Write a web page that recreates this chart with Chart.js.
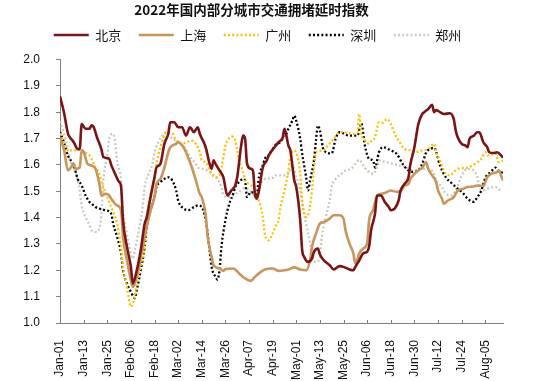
<!DOCTYPE html>
<html><head><meta charset="utf-8">
<script src="https://cdn.jsdelivr.net/npm/chart.js@4"></script>
<style>html,body{margin:0;padding:0;background:#fff}#wrap{width:554px;height:381px}</style>
</head><body><div id="wrap"><canvas id="c" width="554" height="381"></canvas></div>
<script>
const titleText = '2022年国内部分城市交通拥堵延时指数';
const seriesNames = ['北京', '上海', '广州', '深圳', '郑州'];
const tickLabels = ['Jan-01','Jan-13','Jan-25','Feb-06','Feb-18','Mar-02','Mar-14','Mar-26','Apr-07','Apr-19','May-01','May-13','May-25','Jun-06','Jun-18','Jun-30','Jul-12','Jul-24','Aug-05'];
// [day index from Jan-01, index value]
const beijing = [[0,1.86],[2,1.80],[4,1.72],[5,1.705],[7,1.686],[9,1.66],[10,1.66],[11,1.755],[13,1.737],[15,1.737],[16,1.75],[17,1.745],[19,1.70],[21,1.66],[22,1.63],[25,1.623],[26,1.60],[28,1.566],[30,1.535],[31,1.52],[32,1.39],[34,1.29],[36,1.213],[37,1.15],[39,1.20],[41,1.276],[43,1.377],[44,1.40],[46,1.478],[48,1.553],[49,1.59],[51,1.604],[53,1.68],[55,1.718],[56,1.762],[58,1.762],[60,1.743],[62,1.743],[64,1.711],[66,1.743],[68,1.724],[70,1.743],[71,1.718],[74,1.667],[76,1.604],[77,1.585],[78,1.617],[79,1.604],[81,1.579],[83,1.553],[85,1.484],[87,1.503],[89,1.522],[90,1.553],[92,1.673],[93,1.711],[94,1.70],[95,1.604],[97,1.585],[98,1.579],[99,1.49],[100,1.472],[101,1.50],[103,1.59],[105,1.617],[106,1.636],[109,1.667],[111,1.686],[112,1.692],[113,1.70],[114,1.737],[115,1.71],[116,1.673],[117,1.655],[119,1.541],[120,1.516],[122,1.39],[123,1.276],[124,1.251],[126,1.232],[128,1.245],[129,1.27],[131,1.283],[132,1.26],[134,1.238],[137,1.219],[139,1.203],[142,1.216],[144,1.213],[147,1.203],[149,1.20],[150,1.213],[152,1.238],[154,1.264],[156,1.27],[157,1.29],[158,1.352],[160,1.415],[161,1.484],[163,1.484],[165,1.459],[167,1.44],[168,1.428],[170,1.434],[172,1.465],[173,1.503],[175,1.528],[177,1.553],[178,1.604],[180,1.667],[182,1.755],[184,1.793],[185,1.80],[187,1.812],[189,1.828],[190,1.80],[191,1.808],[193,1.80],[195,1.793],[198,1.796],[200,1.774],[201,1.73],[202,1.705],[204,1.68],[206,1.673],[207,1.667],[208,1.699],[210,1.71],[212,1.724],[213,1.724],[215,1.686],[217,1.667],[218,1.648],[220,1.645],[222,1.648],[224,1.636],[225,1.627]];
const shanghai = [[0,1.70],[2,1.66],[4,1.58],[5,1.585],[7,1.604],[8,1.585],[10,1.59],[11,1.655],[12,1.65],[14,1.604],[16,1.598],[18,1.585],[20,1.528],[21,1.484],[23,1.49],[25,1.484],[26,1.472],[29,1.446],[31,1.428],[32,1.327],[34,1.238],[36,1.163],[37,1.137],[39,1.175],[41,1.251],[43,1.327],[46,1.428],[48,1.478],[49,1.528],[51,1.547],[53,1.59],[55,1.648],[56,1.667],[59,1.68],[60,1.686],[62,1.675],[64,1.648],[65,1.63],[67,1.59],[69,1.541],[71,1.49],[72,1.478],[74,1.41],[75,1.327],[77,1.251],[78,1.219],[81,1.207],[83,1.198],[84,1.205],[88,1.207],[91,1.188],[94,1.169],[97,1.16],[99,1.175],[102,1.194],[104,1.203],[108,1.207],[111,1.198],[114,1.20],[116,1.203],[119,1.211],[122,1.203],[125,1.20],[127,1.238],[128,1.289],[130,1.339],[132,1.377],[134,1.383],[137,1.396],[139,1.409],[142,1.409],[144,1.396],[145,1.352],[147,1.302],[149,1.264],[150,1.226],[152,1.264],[154,1.283],[156,1.302],[157,1.39],[159,1.428],[161,1.484],[163,1.49],[165,1.493],[168,1.503],[171,1.498],[173,1.50],[175,1.522],[177,1.528],[178,1.547],[180,1.566],[182,1.579],[184,1.589],[186,1.61],[187,1.585],[189,1.56],[191,1.535],[192,1.503],[194,1.472],[195,1.453],[197,1.465],[200,1.478],[202,1.503],[205,1.51],[207,1.516],[210,1.518],[212,1.522],[215,1.52],[217,1.553],[219,1.566],[222,1.573],[223,1.579],[224,1.56],[225,1.541]];
const guangzhou = [[0,1.72],[2,1.686],[4,1.655],[8,1.655],[10,1.66],[12,1.648],[15,1.636],[18,1.59],[20,1.566],[21,1.535],[23,1.497],[25,1.459],[27,1.421],[29,1.377],[31,1.289],[32,1.213],[34,1.137],[36,1.062],[38,1.10],[39,1.15],[41,1.213],[43,1.289],[44,1.39],[46,1.49],[48,1.553],[49,1.604],[51,1.667],[53,1.711],[54,1.724],[57,1.72],[59,1.692],[62,1.68],[64,1.686],[67,1.692],[69,1.68],[71,1.648],[72,1.617],[74,1.61],[77,1.566],[79,1.553],[81,1.56],[82,1.59],[83,1.63],[84,1.673],[85,1.692],[87,1.708],[89,1.692],[90,1.655],[91,1.617],[93,1.573],[94,1.541],[96,1.528],[98,1.516],[99,1.503],[101,1.465],[103,1.402],[104,1.339],[106,1.314],[108,1.339],[110,1.377],[111,1.39],[112,1.44],[114,1.503],[116,1.579],[117,1.63],[119,1.655],[121,1.62],[122,1.566],[123,1.465],[125,1.402],[126,1.41],[128,1.503],[129,1.59],[130,1.648],[134,1.655],[136,1.673],[139,1.699],[141,1.718],[144,1.724],[148,1.718],[151,1.72],[152,1.793],[153,1.72],[155,1.692],[157,1.68],[158,1.69],[160,1.705],[161,1.737],[162,1.762],[164,1.76],[166,1.774],[168,1.755],[170,1.718],[173,1.68],[175,1.66],[178,1.655],[180,1.648],[184,1.655],[187,1.66],[190,1.68],[191,1.648],[193,1.617],[195,1.579],[196,1.566],[198,1.56],[200,1.573],[202,1.585],[207,1.59],[212,1.61],[214,1.623],[216,1.648],[217,1.636],[221,1.644],[223,1.61],[225,1.617]];
const shenzhen = [[0,1.725],[2,1.686],[4,1.636],[7,1.598],[9,1.547],[11,1.522],[13,1.484],[15,1.459],[16,1.453],[18,1.44],[20,1.434],[23,1.428],[26,1.415],[27,1.377],[29,1.327],[31,1.264],[32,1.20],[34,1.15],[36,1.118],[38,1.094],[39,1.125],[41,1.20],[43,1.289],[44,1.364],[46,1.428],[48,1.478],[49,1.516],[51,1.535],[53,1.547],[55,1.553],[57,1.541],[59,1.503],[60,1.465],[63,1.434],[65,1.428],[68,1.44],[70,1.446],[72,1.44],[74,1.39],[75,1.339],[76,1.276],[77,1.213],[79,1.175],[80,1.165],[81,1.20],[82,1.289],[84,1.39],[86,1.453],[88,1.49],[89,1.516],[91,1.535],[93,1.547],[94,1.54],[95,1.478],[97,1.497],[100,1.49],[101,1.553],[103,1.598],[104,1.623],[106,1.636],[108,1.66],[110,1.68],[112,1.686],[113,1.705],[115,1.718],[116,1.737],[118,1.768],[119,1.787],[120,1.768],[122,1.699],[123,1.642],[124,1.598],[125,1.553],[126,1.503],[127,1.541],[129,1.617],[130,1.692],[131,1.749],[132,1.73],[134,1.655],[138,1.644],[140,1.699],[142,1.724],[147,1.711],[151,1.711],[153,1.758],[155,1.667],[157,1.623],[159,1.617],[160,1.59],[162,1.648],[164,1.667],[168,1.655],[171,1.642],[174,1.604],[177,1.579],[180,1.573],[182,1.579],[184,1.604],[186,1.648],[188,1.66],[190,1.665],[193,1.598],[196,1.553],[199,1.53],[202,1.51],[205,1.49],[207,1.472],[210,1.46],[212,1.478],[214,1.503],[216,1.55],[219,1.575],[221,1.59],[223,1.575],[225,1.57]];
const zhengzhou = [[0,1.765],[2,1.718],[4,1.66],[5,1.617],[7,1.59],[9,1.541],[10,1.503],[11,1.446],[13,1.402],[15,1.371],[16,1.352],[18,1.346],[20,1.358],[21,1.415],[22,1.541],[24,1.636],[25,1.699],[27,1.718],[28,1.686],[29,1.617],[31,1.541],[32,1.428],[34,1.339],[36,1.264],[37,1.245],[38,1.276],[40,1.352],[42,1.44],[43,1.516],[45,1.566],[47,1.604],[48,1.648],[50,1.686],[52,1.711],[54,1.724],[55,1.72],[57,1.699],[60,1.69],[61,1.68],[64,1.66],[66,1.63],[69,1.604],[70,1.59],[73,1.585],[77,1.566],[80,1.547],[82,1.516],[83,1.484],[86,1.478],[89,1.49],[91,1.497],[93,1.51],[96,1.505],[99,1.484],[101,1.516],[104,1.547],[108,1.55],[109,1.56],[114,1.56],[116,1.566],[118,1.598],[120,1.553],[122,1.503],[123,1.453],[125,1.377],[127,1.302],[128,1.251],[130,1.232],[132,1.25],[133,1.327],[135,1.402],[137,1.465],[138,1.516],[140,1.547],[143,1.566],[145,1.579],[148,1.585],[150,1.604],[152,1.619],[154,1.598],[156,1.579],[159,1.566],[161,1.59],[162,1.617],[166,1.61],[169,1.604],[172,1.598],[176,1.59],[179,1.579],[182,1.582],[187,1.585],[190,1.566],[191,1.541],[194,1.516],[196,1.49],[199,1.484],[201,1.503],[203,1.541],[205,1.573],[207,1.585],[210,1.58],[212,1.553],[213,1.516],[215,1.503],[217,1.51],[220,1.516],[222,1.515],[224,1.497]];

const toXY = arr => arr.map(p => ({x: p[0], y: p[1]}));
const seriesData = [beijing, shanghai, guangzhou, shenzhen, zhengzhou];
const colors = ['#7B1416', '#C8955A', '#FFC000', '#000000', '#C9C9BE'];
const dashes = [[], [], [2, 2.2], [2, 2.2], [2, 2.2]];
const widths = [2.6, 2.6, 2.3, 2.3, 2.3];

const layoutTweaks = {
  id: 'layoutTweaks',
  beforeUpdate(chart) {
    const lg = chart.legend;
    if (lg && !lg.__patched) {
      const origFit = lg.fit;
      lg.fit = function () { origFit.call(this); this.height += 8; };
      lg.__patched = true;
    }
  },
  afterLayout(chart) {
    if (chart.legend) { chart.legend.left += 6; chart.legend.right += 6; }
  },
  afterDatasetsDraw(chart) {
    const s = chart.scales.x, ctx = chart.ctx, y = chart.chartArea.bottom;
    ctx.save();
    ctx.strokeStyle = '#808080'; ctx.lineWidth = 1;
    s.ticks.forEach(t => {
      if (t.value % 12 !== 0) return;
      const x = Math.round(s.getPixelForValue(t.value)) + 0.5;
      ctx.beginPath(); ctx.moveTo(x, y); ctx.lineTo(x, y - 3); ctx.stroke();
    });
    ctx.restore();
  }
};

new Chart(document.getElementById('c'), {
  type: 'line',
  data: {
    datasets: seriesNames.map((n, i) => ({
      label: n,
      data: toXY(seriesData[i]),
      borderColor: colors[i],
      backgroundColor: colors[i],
      borderWidth: widths[i],
      borderDash: dashes[i],
      borderCapStyle: 'butt',
      pointRadius: 0,
      cubicInterpolationMode: 'monotone',
      fill: false
    }))
  },
  options: {
    responsive: false,
    animation: false,
    layout: { padding: { left: 0, right: 51, top: 0, bottom: 0 } },
    plugins: {
      title: {
        display: true, text: titleText, color: '#111',
        font: { family: 'Noto Sans CJK SC', size: 13.5, weight: 'bold', lineHeight: 1 },
        padding: { top: 3, bottom: -5.5 }
      },
      legend: {
        display: true,
        labels: {
          usePointStyle: true, pointStyle: 'line', pointStyleWidth: 35,
          padding: 17.5, color: '#111',
          font: { family: 'Noto Sans CJK SC', size: 13 },
          generateLabels: chart => Chart.defaults.plugins.legend.labels.generateLabels(chart).map((l, i) => Object.assign(l, {
            pointStyle: 'line', strokeStyle: colors[i], fillStyle: colors[i],
            lineWidth: widths[i], lineDash: dashes[i], lineCap: 'butt'
          }))
        }
      },
      tooltip: { enabled: false }
    },
    scales: {
      x: {
        type: 'linear', min: 0, max: 225,
        ticks: {
          stepSize: 12, includeBounds: false, autoSkip: false,
          maxRotation: 90, minRotation: 90, padding: 9,
          color: '#111', font: { family: 'Liberation Sans', size: 12 },
          callback: v => (v % 12 === 0 && tickLabels[v / 12]) ? tickLabels[v / 12] : ''
        },
        grid: { display: false },
        border: { display: true, color: '#808080', width: 1 },
        afterFit: s => { s.height = 58; }
      },
      y: {
        min: 1, max: 2,
        ticks: {
          stepSize: 0.1, padding: 16, color: '#111',
          font: { family: 'Liberation Sans', size: 12 },
          callback: v => Number(v).toFixed(1)
        },
        grid: { display: true, drawOnChartArea: false, drawTicks: true, tickLength: 4, color: '#808080' },
        border: { display: true, color: '#808080', width: 1 },
        afterFit: s => { s.width = 60; }
      }
    }
  },
  plugins: [layoutTweaks]
});
</script>
</body></html>
